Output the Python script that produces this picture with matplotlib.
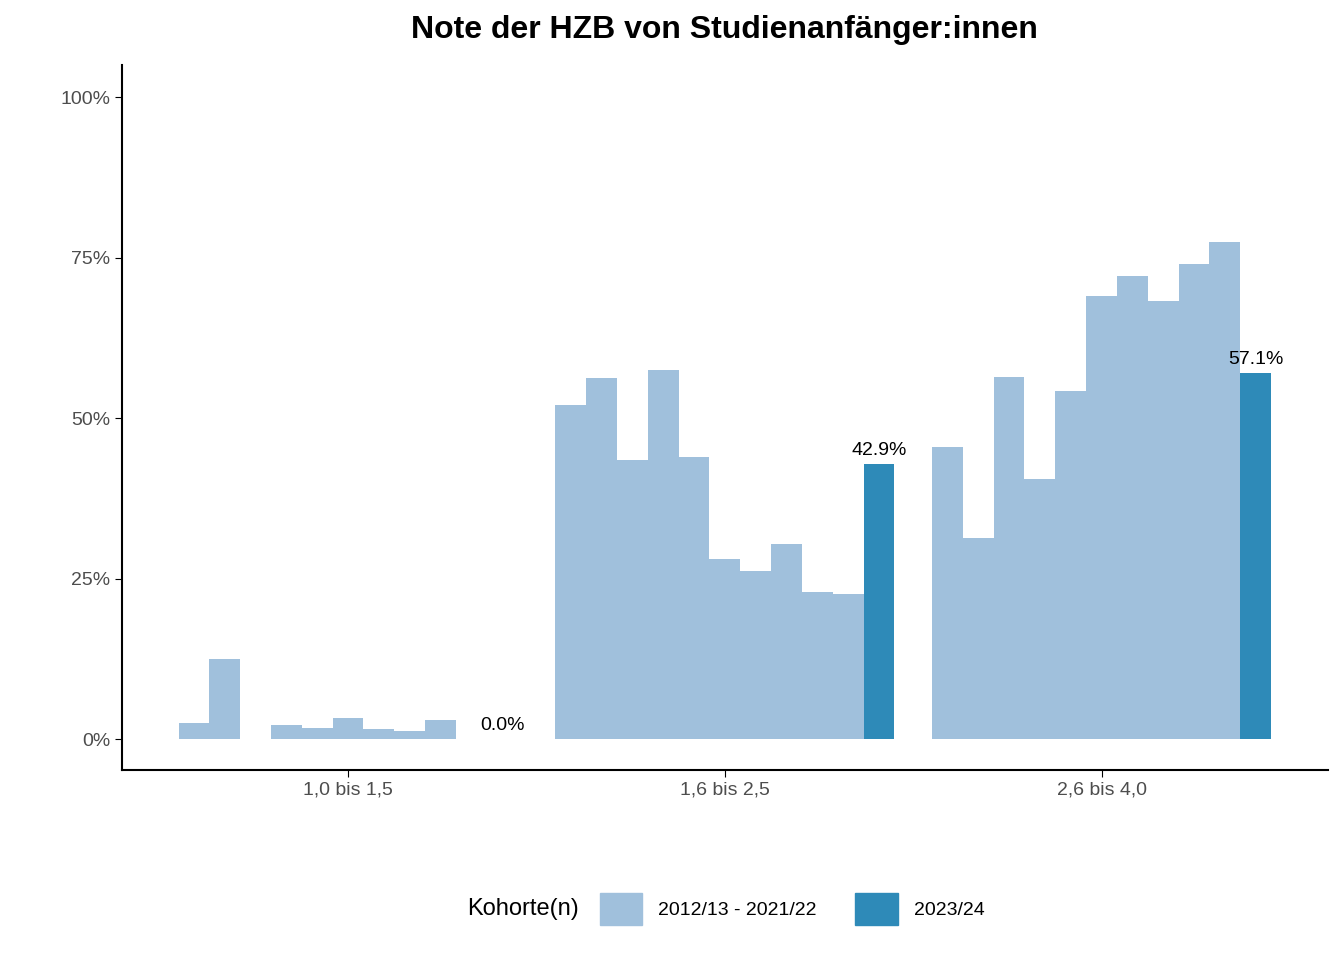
import numpy as np
import matplotlib.pyplot as plt
from matplotlib.patches import Patch

plt.rcParams['font.family'] = 'Liberation Sans'

# Data
categories = ['1,0 bis 1,5', '1,6 bis 2,5', '2,6 bis 4,0']
cohorts_old = ['2012/13', '2013/14', '2014/15', '2015/16', '2016/17',
               '2017/18', '2018/19', '2019/20', '2020/21', '2021/22']
old_values = [
    [2.5, 12.5, np.nan, 2.2, 1.8, 3.3, 1.5, 1.2, 3.0, np.nan],
    [52.0, 56.3, 43.5, 57.5, 44.0, 28.0, 26.2, 30.4, 23.0, 22.6],
    [45.5, 31.3, 56.5, 40.5, 54.3, 69.0, 72.2, 68.3, 74.0, 77.5],
]
new_values = [0.0, 42.9, 57.1]

light = '#a0c0dc'
dark = '#2e8ab8'

fig = plt.figure(figsize=(13.44, 9.6), dpi=100)
ax = fig.add_axes([0.0908, 0.198, 0.897, 0.734])

n = 11
w = 0.9 / n
x = np.arange(1, len(categories) + 1)
for i in range(len(cohorts_old)):
    vals = [row[i] for row in old_values]
    ax.bar(x - 0.45 + w * (i + 0.5), vals, width=w, color=light, linewidth=0)
xd = x - 0.45 + w * 10.5
ax.bar(xd, new_values, width=w, color=dark, linewidth=0)
for xi, v in zip(xd, new_values):
    ax.text(xi, v + 0.8, f'{v:.1f}%', ha='center', va='bottom', fontsize=14)

ax.set_xlim(0.4, 3.6)
ax.set_ylim(-4.8, 105)
ax.set_xticks(x)
ax.set_xticklabels(categories)
ax.set_yticks([0, 25, 50, 75, 100])
ax.set_yticklabels(['0%', '25%', '50%', '75%', '100%'])
ax.tick_params(labelsize=14, colors='#4d4d4d', length=5)
ax.tick_params(axis='both', color='black')
for s in ['top', 'right']:
    ax.spines[s].set_visible(False)
for s in ['left', 'bottom']:
    ax.spines[s].set_linewidth(1.5)

ax.set_title('Note der HZB von Studienanfänger:innen', fontsize=23,
             fontweight='bold', pad=20)

handles = [Patch(color=light, label='2012/13 - 2021/22'),
           Patch(color=dark, label='2023/24')]
fig.legend(handles=handles, loc='center', bbox_to_anchor=(0.54, 0.053), ncol=2,
           frameon=False, fontsize=14, title='Kohorte(n)', title_fontsize=17,
           handlelength=2.2, handleheight=2.2, alignment='left')
leg = fig.legends[0]
leg._legend_box.align = 'left'
# put title on the left of the entries
from matplotlib.offsetbox import HPacker
box = leg._legend_box
box._children = [HPacker(children=list(box._children), align='center', pad=0, sep=15)]

fig.savefig('out.png', dpi=100)
